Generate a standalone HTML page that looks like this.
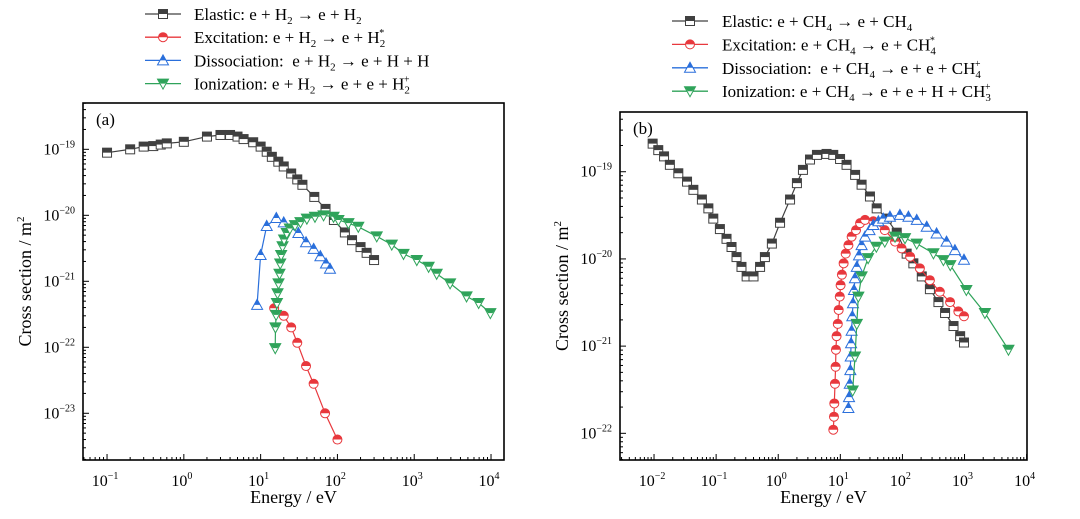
<!DOCTYPE html>
<html><head><meta charset="utf-8"><style>
body{margin:0;background:#fff;}
svg{display:block;font-family:"Liberation Serif","DejaVu Serif",serif;}
</style></head><body>
<svg id="fig" width="1080" height="519" viewBox="0 0 1080 519"></svg>
<script>
// ---------- Panel (a) H2 data ----------
const aElasticE=[0.1,0.2,0.3,0.4,0.5,0.6,1.0,2,3,4,5,6,8,10,12,14,17,20,25,30,35,50,70,90,125,155,200,240,300];
const aElasticS=[8.9e-20,1.0e-19,1.1e-19,1.12e-19,1.18e-19,1.23e-19,1.3e-19,1.56e-19,1.65e-19,1.65e-19,1.56e-19,1.43e-19,1.28e-19,1.1e-19,9.2e-20,7.7e-20,6.5e-20,5.5e-20,4.3e-20,3.5e-20,2.9e-20,1.9e-20,1.25e-20,8.5e-21,5.5e-21,4.2e-21,3.3e-21,2.7e-21,2.1e-21];
const aExcE=[15,20,25,30,39,49,69,100];
const aExcS=[3.9e-22,3.0e-22,2.0e-22,1.17e-22,5.2e-23,2.8e-23,1.0e-23,4e-24];
const aDisE=[9,10,12,16,20,31,39,49,60,71,80];
const aDisS=[4.4e-22,2.5e-21,6.9e-21,9.1e-21,7.8e-21,5.4e-21,3.9e-21,3.1e-21,2.4e-21,1.86e-21,1.55e-21];
const aIonE=[15.5,15.6,15.9,16.3,16.6,17.1,17.6,18,18.5,19.3,20.2,21.9,24,28,33,40,51,66,89,103,139,187,325,510,725,1080,1540,1960,2930,4800,6900,9800];
const aIonS=[9.7e-23,2.0e-22,3.1e-22,4.7e-22,6.6e-22,9.3e-22,1.3e-21,1.86e-21,2.5e-21,3.4e-21,4.3e-21,5.4e-21,6.3e-21,7.1e-21,7.9e-21,8.9e-21,9.5e-21,1.0e-20,9.5e-21,8.5e-21,7.6e-21,6.7e-21,4.8e-21,3.6e-21,2.6e-21,2.1e-21,1.66e-21,1.3e-21,9.3e-22,5.9e-22,4.7e-22,3.3e-22];
// ---------- Panel (b) CH4 data ----------
const bElasticE=[0.0095,0.0117,0.0145,0.018,0.0246,0.034,0.043,0.059,0.075,0.09,0.115,0.147,0.177,0.213,0.256,0.31,0.4,0.51,0.61,0.79,1.07,1.55,2.0,2.5,3.25,4.2,6.0,7.7,9.9,12.6,17.3,22,30,38.5,56,81,117,150,205,277,380,486,665,850,980];
const bElasticS=[2.1e-19,1.77e-19,1.5e-19,1.2e-19,9.6e-20,7.7e-20,6.2e-20,4.8e-20,3.8e-20,2.9e-20,2.2e-20,1.7e-20,1.37e-20,1.05e-20,8.1e-21,6.3e-21,6.3e-21,8.1e-21,1.05e-20,1.5e-20,2.6e-20,4.8e-20,7.4e-20,1.05e-19,1.38e-19,1.56e-19,1.6e-19,1.56e-19,1.4e-19,1.2e-19,9.2e-20,7.1e-20,5.2e-20,3.8e-20,2.9e-20,2.0e-20,1.15e-20,8.9e-21,6.3e-21,4.5e-21,3.2e-21,2.4e-21,1.7e-21,1.3e-21,1.1e-21];
const bExcE=[7.7,7.9,8.0,8.2,8.4,8.5,8.7,9.1,9.4,9.8,10.1,10.6,11.3,12.2,13.5,15.2,17.9,20.8,25,34,52,76,97,133,191,277,400,585,795,980];
const bExcS=[1.1e-22,1.55e-22,2.2e-22,3.7e-22,5.8e-22,9.1e-22,1.3e-21,1.8e-21,2.6e-21,3.7e-21,5.0e-21,6.6e-21,8.9e-21,1.15e-20,1.44e-20,1.8e-20,2.14e-20,2.57e-20,2.8e-20,2.7e-20,2.14e-20,1.58e-20,1.32e-20,1.06e-20,7.8e-21,5.7e-21,4.2e-21,3.2e-21,2.5e-21,2.2e-21];
const bDisE=[13.5,13.8,14.2,14.5,14.7,14.9,15.2,15.6,16.0,16.6,17.2,18.4,20,22,25,29.5,34,41,49,63,91,125,170,246,355,513,700,980];
const bDisS=[1.95e-22,2.6e-22,3.7e-22,5.3e-22,7.6e-22,1.08e-21,1.5e-21,2.2e-21,3.1e-21,4.4e-21,6.0e-21,8.1e-21,1.1e-20,1.44e-20,1.8e-20,2.14e-20,2.45e-20,2.7e-20,2.9e-20,3.05e-20,3.2e-20,3.05e-20,2.8e-20,2.34e-20,1.96e-20,1.58e-20,1.26e-20,9.8e-21];
const bIonE=[15.8,17.2,18.4,19.5,22,28,38,52,76,110,170,316,457,590,1070,2130,5100];
const bIonS=[3.1e-22,7.6e-22,1.8e-21,3.7e-21,6.3e-21,1.02e-20,1.38e-20,1.58e-20,1.8e-20,1.73e-20,1.5e-20,1.16e-20,9.7e-21,8.5e-21,4.4e-21,2.4e-21,9.1e-22];
// tick exponents
const aXTicks=[-1,0,1,2,3,4];
const aYTicks=[-19,-20,-21,-22,-23];
const bXTicks=[-2,-1,0,1,2,3,4];
const bYTicks=[-19,-20,-21,-22];

const NS="http://www.w3.org/2000/svg";
const svg=document.getElementById('fig');
function mk(tag,attrs,parent){const e=document.createElementNS(NS,tag);for(const k in attrs)e.setAttribute(k,attrs[k]);(parent||svg).appendChild(e);return e;}
const COL={k:'#404040',r:'#e8383d',b:'#2a6fdb',g:'#2fa35a'};

function panel(cfg){
  const g=mk('g',{});
  
  
  const sx=v=>cfg.x0+(Math.log10(v)-cfg.xl0)/(cfg.xl1-cfg.xl0)*(cfg.x1-cfg.x0);
  const sy=v=>cfg.y1-(Math.log10(v)-cfg.yl0)/(cfg.yl1-cfg.yl0)*(cfg.y1-cfg.y0);
  const lx=l=>cfg.x0+(l-cfg.xl0)/(cfg.xl1-cfg.xl0)*(cfg.x1-cfg.x0);
  const ly=l=>cfg.y1-(l-cfg.yl0)/(cfg.yl1-cfg.yl0)*(cfg.y1-cfg.y0);
  const frame=mk('rect',{x:cfg.x0,y:cfg.y0,width:cfg.x1-cfg.x0,height:cfg.y1-cfg.y0,fill:'none',stroke:'#000','stroke-width':1.6},g);
  
  
  for(let d=Math.floor(cfg.xl0);d<=Math.ceil(cfg.xl1);d++){
    for(let m=1;m<10;m++){const l=d+Math.log10(m);if(l<cfg.xl0||l>cfg.xl1+1e-9)continue;
      const X=lx(l);mk('line',{x1:X,x2:X,y1:cfg.y1,y2:cfg.y1-(m==1?6:3),stroke:'#000','stroke-width':1},g);}
  }
  for(let d=Math.floor(cfg.yl0);d<=Math.ceil(cfg.yl1);d++){
    for(let m=1;m<10;m++){const l=d+Math.log10(m);if(l<cfg.yl0||l>cfg.yl1)continue;
      const Y=ly(l);mk('line',{x1:cfg.x0,x2:cfg.x0+(m==1?6:3),y1:Y,y2:Y,stroke:'#000','stroke-width':1},g);}
  }
  cfg.xt.forEach(t=>{const tx=mk('text',{x:lx(t)-2,y:cfg.y1+26,'font-size':16,'text-anchor':'middle'},g);
    
    
    tx.innerHTML='10<tspan dy="-7" font-size="10">'+(t<0?'\u2212'+(-t):t)+'</tspan>';});
  cfg.yt.forEach(t=>{const tx=mk('text',{x:cfg.x0-8,y:ly(t)+5,'font-size':16,'text-anchor':'end'},g);
    
    
    tx.innerHTML='10<tspan dy="-7" font-size="10">\u2212'+(-t)+'</tspan>';});
  const xt=mk('text',{x:(cfg.x0+cfg.x1)/2,y:503,'font-size':18,'text-anchor':'middle'},g);
  
  
  xt.textContent='Energy / eV';
  const yt=mk('text',{x:0,y:0,'font-size':18,'text-anchor':'middle',transform:`translate(${cfg.x0-52},${(cfg.y0+cfg.y1)/2}) rotate(-90)`},g);
  
  
  yt.innerHTML='Cross section / m<tspan dy="-7" font-size="11">2</tspan>';
  const pl=mk('text',{x:cfg.x0+13,y:cfg.y0+22,'font-size':17},g);
  
  
  pl.textContent=cfg.label;
  cfg.series.forEach(s=>{
    const sg=mk('g',{},g);
    
    
    const pts=s.E.map((e,i)=>sx(e).toFixed(1)+','+sy(s.S[i]).toFixed(1)).join(' ');
    mk('polyline',{points:pts,fill:'none',stroke:s.c,'stroke-width':1.2},sg);
    s.E.forEach((e,i)=>marker(sg,sx(e),sy(s.S[i]),s.m,s.c));
  });
}
function marker(p,x,y,type,c){
  const r=4.5;
  if(type=='sq'){
    mk('rect',{x:x-r,y:y-r,width:2*r,height:2*r,fill:'#fff',stroke:c,'stroke-width':1},p);
    mk('rect',{x:x-r,y:y-r,width:2*r,height:r,fill:c},p);
  }else if(type=='ci'){
    mk('circle',{cx:x,cy:y,r:r,fill:'#fff',stroke:c,'stroke-width':1},p);
    mk('path',{d:`M${x-r},${y} A${r},${r} 0 0 1 ${x+r},${y} Z`,fill:c},p);
  }else if(type=='up'){
    mk('path',{d:`M${x},${y-r-1} L${x+r+1},${y+r} L${x-r-1},${y+r} Z`,fill:'#fff',stroke:c,'stroke-width':1},p);
    mk('path',{d:`M${x},${y-r-1} L${x+(r+1)/2+0.5},${y} L${x-(r+1)/2-0.5},${y} Z`,fill:c},p);
  }else{
    mk('path',{d:`M${x-r-1},${y-r} L${x+r+1},${y-r} L${x},${y+r+1} Z`,fill:'#fff',stroke:c,'stroke-width':1},p);
    mk('path',{d:`M${x-r-1},${y-r} L${x+r+1},${y-r} L${x+r/2},${y} L${x-r/2},${y} Z`,fill:c},p);
  }
}
panel({name:'chart-a-h2',label:'(a)',x0:83,x1:504,y0:103,y1:460,xl0:-1.313,xl1:4.169,yl0:-23.708,yl1:-18.298,xt:aXTicks,yt:aYTicks,
  series:[{name:'series-elastic-h2',E:aElasticE,S:aElasticS,m:'sq',c:COL.k},
  {name:'series-excitation-h2',E:aExcE,S:aExcS,m:'ci',c:COL.r},
  {name:'series-dissociation-h2',E:aDisE,S:aDisS,m:'up',c:COL.b},
  {name:'series-ionization-h2',E:aIonE,S:aIonS,m:'dn',c:COL.g}]});
panel({name:'chart-b-ch4',label:'(b)',x0:620,x1:1027,y0:112,y1:460,xl0:-2.548,xl1:4.006,yl0:-22.306,yl1:-18.315,xt:bXTicks,yt:bYTicks,
  series:[{name:'series-elastic-ch4',E:bElasticE,S:bElasticS,m:'sq',c:COL.k},
  {name:'series-excitation-ch4',E:bExcE,S:bExcS,m:'ci',c:COL.r},
  {name:'series-dissociation-ch4',E:bDisE,S:bDisS,m:'up',c:COL.b},
  {name:'series-ionization-ch4',E:bIonE,S:bIonS,m:'dn',c:COL.g}]});

// legend segments: [text, mode] mode: '' normal, 'sub', or 'ss:X' (superscript X over subscript)
const legA=[
 [[['Elastic: e + H',''],['2','sub'],[' \u2192 e + H',''],['2','sub']],'sq',COL.k],
 [[['Excitation: e + H',''],['2','sub'],[' \u2192 e + H',''],['2','ss:*']],'ci',COL.r],
 [[['Dissociation:\u00a0 e + H',''],['2','sub'],[' \u2192 e + H + H','']],'up',COL.b],
 [[['Ionization: e + H',''],['2','sub'],[' \u2192 e + e + H',''],['2','ss:+']],'dn',COL.g]];
const legB=[
 [[['Elastic: e + CH',''],['4','sub'],[' \u2192 e + CH',''],['4','sub']],'sq',COL.k],
 [[['Excitation: e + CH',''],['4','sub'],[' \u2192 e + CH',''],['4','ss:*']],'ci',COL.r],
 [[['Dissociation:\u00a0 e + CH',''],['4','sub'],[' \u2192 e + e + CH',''],['4','ss:+']],'up',COL.b],
 [[['Ionization: e + CH',''],['4','sub'],[' \u2192 e + e + H + CH',''],['3','ss:+']],'dn',COL.g]];
function legend(items,lx0,tx,y0,dy,name){
  const g=mk('g',{});
  
  
  items.forEach((it,i)=>{
    const y=y0+i*dy;
    const e=mk('g',{},g);
    
    
    mk('line',{x1:lx0,x2:lx0+36,y1:y,y2:y,stroke:it[2],'stroke-width':1.3},e);
    marker(e,lx0+18,y,it[1],it[2]);
    const t=mk('text',{x:tx,y:y+6,'font-size':17},e);
    let cx=tx;
    // build segments with absolute y to avoid baseline drift
    it[0].forEach(seg=>{
      if(seg[1]===''){
        const s=mk('tspan',{y:y+6},t);s.textContent=seg[0];
      }else if(seg[1]==='sub'){
        const s=mk('tspan',{y:y+10,'font-size':11},t);s.textContent=seg[0];
      }else{
        const sup=seg[1].slice(3);
        const s1=mk('tspan',{y:y+10,'font-size':11},t);s1.textContent=seg[0];
        const s2=mk('tspan',{y:y-1,dx:-6,'font-size':10},t);s2.textContent=sup;
      }
    });
  });
}
legend(legA,145,194,14,23.2,'legend-a');
legend(legB,672,722,21,23.4,'legend-b');
</script>
</body></html>
